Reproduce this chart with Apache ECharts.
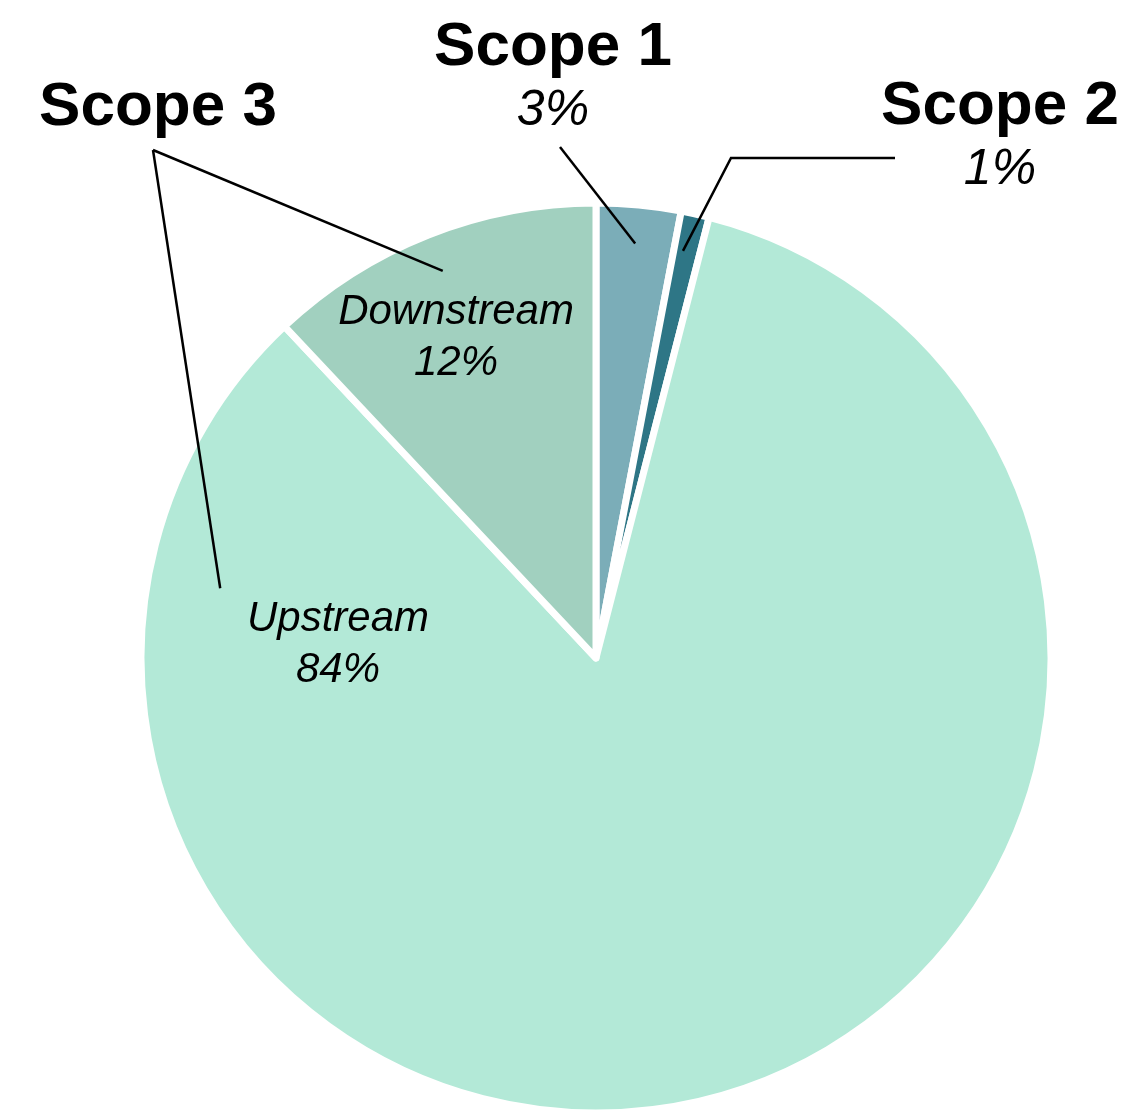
<!DOCTYPE html>
<html>
<head>
<meta charset="utf-8">
<script src="https://cdn.jsdelivr.net/npm/echarts@6/dist/echarts.min.js"></script>
<style>
  html, body { margin: 0; padding: 0; background: #ffffff; }
  #chart { width: 1128px; height: 1116px; }
</style>
</head>
<body>
<div id="chart"></div>
<script>
// Emission shares by scope
const categories = ['Scope 1', 'Scope 2', 'Upstream', 'Downstream'];
const shares = [3, 1, 84, 12];
const sliceColors = ['#7badb8', '#2e7686', '#b3e9d7', '#a1d0bf'];
const groupTitle = 'Scope 3';

// Pie geometry (pixels)
const CX = 596, CY = 658, R = 455;
const FONT = '"Liberation Sans", Arial, Helvetica, sans-serif';

// Label placement: centre of each label block, where its leader touches the
// slice (fraction along the slice's sweep, fraction of the radius) and the
// remaining bend points of the leader.
const labelCentres = [[553, 79], [1000, 138], [338, 645], [456, 338]];
const leaderTouch = [[0.5, 0.915], [0.35, 0.915], [0.88, 0.84], [0.5, 0.915]];
const scope3Anchor = [153, 150];
const leaderBends = [
  [[560, 147]],
  [[731, 158], [895, 158]],
  [scope3Anchor],
  [scope3Anchor]
];

const total = shares.reduce((a, b) => a + b, 0);
function sliceRange(i) {
  let before = 0;
  for (let k = 0; k < i; k++) before += shares[k];
  return [before / total * 360, (before + shares[i]) / total * 360];
}
function polar(deg, frac) {
  const a = deg * Math.PI / 180;
  return [CX + R * frac * Math.sin(a), CY - R * frac * Math.cos(a)];
}

// Leader lines from each slice to its label, drawn over the pie
const leaders = categories.map((c, i) => {
  const rng = sliceRange(i);
  const t = leaderTouch[i];
  const touch = polar(rng[0] + (rng[1] - rng[0]) * t[0], t[1]);
  return {
    type: 'polyline',
    z: 100,
    silent: true,
    shape: { points: [touch].concat(leaderBends[i]) },
    style: { stroke: '#000000', lineWidth: 2.5, fill: null, lineJoin: 'miter' }
  };
});

const chart = echarts.init(document.getElementById('chart'), null, { renderer: 'canvas' });

const option = {
  backgroundColor: '#ffffff',
  animation: false,
  graphic: leaders.concat([{
    type: 'text',
    x: 158,
    y: 108,
    z: 100,
    style: {
      text: groupTitle,
      fontFamily: FONT,
      fontSize: 62,
      fontWeight: 'bold',
      fill: '#000000',
      align: 'center',
      verticalAlign: 'middle'
    }
  }]),
  series: [{
    type: 'pie',
    center: [CX, CY],
    radius: [0, R],
    startAngle: 90,
    clockwise: true,
    avoidLabelOverlap: false,
    itemStyle: { borderColor: '#ffffff', borderWidth: 7 },
    label: {
      show: true,
      position: 'outside',
      color: '#000000',
      fontFamily: FONT,
      formatter: function (p) {
        if (p.dataIndex < 2) return '{t|' + p.name + '}\n{p|' + p.value + '%}';
        return '{i|' + p.name + '}\n{i|' + p.value + '%}';
      },
      rich: {
        t: { fontFamily: FONT, fontSize: 62, fontWeight: 'bold', color: '#000', lineHeight: 64, align: 'center' },
        p: { fontFamily: FONT, fontSize: 50, fontStyle: 'italic', color: '#000', lineHeight: 62, align: 'center' },
        i: { fontFamily: FONT, fontSize: 42, fontStyle: 'italic', color: '#000', lineHeight: 51, align: 'center' }
      }
    },
    labelLine: { show: false },
    labelLayout: function (params) {
      const i = params.dataIndex;
      return {
        x: labelCentres[i][0],
        y: labelCentres[i][1],
        align: 'center',
        verticalAlign: 'middle'
      };
    },
    emphasis: { disabled: true },
    data: categories.map((c, i) => ({
      name: c,
      value: shares[i],
      itemStyle: { color: sliceColors[i] }
    }))
  }]
};

chart.setOption(option);
</script>
</body>
</html>
